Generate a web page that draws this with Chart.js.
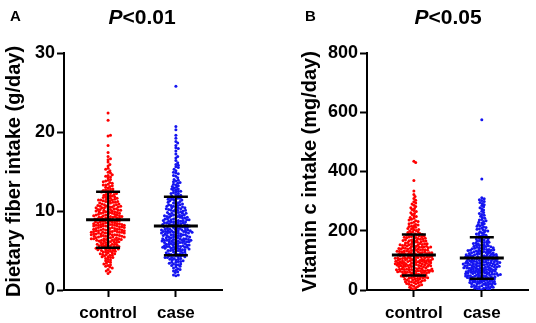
<!DOCTYPE html>
<html>
<head>
<meta charset="utf-8">
<script src="https://cdn.jsdelivr.net/npm/chart.js@4.4.1/dist/chart.umd.min.js"></script>
<style>
  html,body{margin:0;padding:0;background:#fff;}
  #wrap{position:relative;width:536px;height:323px;overflow:hidden;}
  .pane{position:absolute;top:0;width:268px;height:323px;}
  #pA{left:0;} #pB{left:268px;}
</style>
</head>
<body>
<div id="wrap">
  <div class="pane" id="pA"><canvas id="cA" width="268" height="323"></canvas></div>
  <div class="pane" id="pB"><canvas id="cB" width="268" height="323"></canvas></div>
</div>
<script>
/* ---- data ---- */
const groups = ['control', 'case'];

// panel A: dietary fiber intake (g/day)
const fiberControl = [
  2.1,2.4,2.6,2.8,2.9,2.3,
  3.0,3.2,3.3,3.5,3.6,3.7,3.8,3.9,3.4,3.1,
  4.0,4.1,4.2,4.2,4.3,4.4,4.5,4.5,4.6,4.7,4.7,4.8,4.9,4.9,4.1,4.4,4.6,4.8,
  5.0,5.0,5.1,5.1,5.2,5.2,5.3,5.3,5.3,5.4,5.4,5.5,5.5,5.5,5.6,5.6,5.7,5.7,5.7,5.8,5.8,5.8,5.9,5.9,5.2,5.4,5.6,5.0,
  6.0,6.0,6.1,6.1,6.1,6.2,6.2,6.2,6.3,6.3,6.3,6.4,6.4,6.4,6.5,6.5,6.5,6.5,6.6,6.6,6.6,6.7,6.7,6.7,6.8,6.8,6.8,6.9,6.9,6.9,6.0,6.3,6.6,6.8,
  7.0,7.0,7.0,7.0,7.1,7.1,7.1,7.1,7.2,7.2,7.2,7.2,7.3,7.3,7.3,7.3,7.4,7.4,7.4,7.4,7.5,7.5,7.5,7.5,7.6,7.6,7.6,7.6,7.7,7.7,7.7,7.7,7.8,7.8,7.8,7.9,7.9,7.9,
  8.0,8.0,8.0,8.0,8.1,8.1,8.1,8.1,8.2,8.2,8.2,8.2,8.3,8.3,8.3,8.3,8.4,8.4,8.4,8.4,8.5,8.5,8.5,8.5,8.6,8.6,8.6,8.7,8.7,8.7,8.8,8.8,8.8,8.9,8.9,8.9,
  9.0,9.0,9.0,9.0,9.1,9.1,9.1,9.2,9.2,9.2,9.2,9.3,9.3,9.3,9.4,9.4,9.4,9.5,9.5,9.5,9.6,9.6,9.6,9.7,9.7,9.7,9.8,9.8,9.8,9.9,9.9,9.9,
  10.0,10.0,10.0,10.1,10.1,10.1,10.2,10.2,10.2,10.3,10.3,10.3,10.4,10.4,10.4,10.5,10.5,10.5,10.6,10.6,10.6,10.7,10.7,10.8,10.8,10.8,10.9,10.9,
  11.0,11.0,11.1,11.1,11.1,11.2,11.2,11.3,11.3,11.4,11.4,11.4,11.5,11.5,11.6,11.6,11.7,11.7,11.8,11.8,11.9,11.9,
  12.0,12.1,12.2,12.2,12.3,12.4,12.5,12.5,12.6,12.7,12.8,12.8,12.9,12.1,12.4,12.6,
  13.0,13.1,13.2,13.3,13.4,13.5,13.6,13.7,13.8,13.9,13.3,
  14.0,14.2,14.3,14.5,14.6,14.8,14.9,14.4,
  15.1,15.3,15.4,15.7,15.9,
  16.2,16.5,16.6,16.9,
  17.4,18.3,19.5,19.6,21.5,22.4
];
const fiberCase = [
  1.8,1.9,1.9,
  2.2,2.4,2.5,2.6,2.7,2.8,2.9,2.3,
  3.0,3.1,3.2,3.3,3.3,3.4,3.5,3.5,3.6,3.6,3.7,3.8,3.8,3.9,3.9,3.2,
  4.0,4.0,4.1,4.1,4.2,4.2,4.3,4.3,4.4,4.4,4.5,4.5,4.5,4.6,4.6,4.7,4.7,4.8,4.8,4.9,4.9,4.3,4.6,4.1,
  5.0,5.0,5.0,5.1,5.1,5.1,5.2,5.2,5.2,5.3,5.3,5.3,5.4,5.4,5.4,5.4,5.5,5.5,5.5,5.5,5.6,5.6,5.6,5.7,5.7,5.7,5.8,5.8,5.8,5.9,5.9,5.9,
  6.0,6.0,6.0,6.0,6.1,6.1,6.1,6.1,6.2,6.2,6.2,6.2,6.3,6.3,6.3,6.3,6.4,6.4,6.4,6.4,6.5,6.5,6.5,6.5,6.6,6.6,6.6,6.7,6.7,6.7,6.8,6.8,6.8,6.9,6.9,6.9,
  7.0,7.0,7.0,7.0,7.1,7.1,7.1,7.2,7.2,7.2,7.2,7.3,7.3,7.3,7.3,7.4,7.4,7.4,7.4,7.5,7.5,7.5,7.5,7.6,7.6,7.6,7.6,7.7,7.7,7.7,7.8,7.8,7.8,7.9,7.9,7.9,
  8.0,8.0,8.0,8.1,8.1,8.1,8.1,8.2,8.2,8.2,8.3,8.3,8.3,8.4,8.4,8.4,8.5,8.5,8.5,8.5,8.6,8.6,8.6,8.7,8.7,8.7,8.8,8.8,8.8,8.9,8.9,8.9,
  9.0,9.0,9.0,9.1,9.1,9.1,9.2,9.2,9.2,9.3,9.3,9.4,9.4,9.4,9.5,9.5,9.5,9.6,9.6,9.7,9.7,9.7,9.8,9.8,9.9,9.9,
  10.0,10.0,10.1,10.1,10.1,10.2,10.2,10.3,10.3,10.4,10.4,10.4,10.5,10.5,10.6,10.6,10.7,10.7,10.8,10.8,10.9,10.9,
  11.0,11.1,11.2,11.2,11.3,11.4,11.5,11.5,11.6,11.7,11.7,11.8,11.9,11.0,11.4,11.6,11.9,
  12.0,12.1,12.2,12.3,12.4,12.5,12.6,12.7,12.8,12.9,12.2,12.5,12.8,
  13.0,13.1,13.3,13.4,13.5,13.6,13.7,13.8,13.9,13.2,
  14.0,14.2,14.4,14.5,14.7,14.8,14.9,
  15.1,15.3,15.5,15.6,15.8,15.9,
  16.1,16.4,16.7,16.9,
  17.2,17.6,17.9,
  18.0,18.3,18.6,18.8,
  19.2,19.6,20.3,20.7,25.8
];

// panel B: vitamin c intake (mg/day)
const vitcControl = [
  2,5,7,9,11,13,15,16,18,19,
  21,22,24,25,26,27,28,29,30,31,32,33,34,35,36,37,38,39,
  40,41,41,42,43,44,44,45,46,47,47,48,49,50,50,51,52,53,53,54,55,56,57,58,58,59,
  60,60,61,61,62,62,63,63,64,64,65,65,66,66,67,67,68,68,69,69,70,70,71,71,72,72,73,74,75,76,77,78,79,79,
  80,81,82,83,84,85,86,87,88,89,90,91,92,93,94,95,96,97,98,99,80,81,82,84,85,86,88,89,90,91,92,94,95,96,97,98,99,83,
  100,101,102,103,104,105,106,107,108,109,110,111,112,113,114,115,116,117,118,119,100,101,102,103,105,106,107,108,110,111,112,114,115,116,118,119,
  120,121,122,123,124,125,126,127,128,129,130,131,132,133,134,135,136,137,138,139,120,122,123,125,126,128,129,131,132,134,136,138,
  140,141,142,143,144,145,146,147,148,149,150,151,152,153,154,155,156,157,158,159,141,143,145,148,150,153,156,
  160,161,162,163,164,165,166,167,168,169,170,171,172,173,174,175,176,177,178,179,165,
  180,181,182,183,184,185,186,187,188,190,191,193,194,196,197,199,
  201,203,204,206,208,210,212,214,215,217,219,
  221,224,226,229,231,234,236,239,
  242,245,248,251,255,258,
  261,265,268,272,275,278,
  282,286,290,294,298,
  303,309,316,322,334,370,430,435
];
const vitcCase = [
  1,2,3,4,5,6,7,8,9,10,11,12,13,14,15,16,17,18,19,10,
  20,21,22,23,24,25,26,27,28,29,30,31,32,33,34,35,36,37,38,39,21,23,25,27,30,33,35,38,
  40,41,42,43,44,45,46,47,48,49,50,51,52,53,54,55,56,57,58,59,40,41,43,44,46,47,49,50,52,53,55,56,58,59,
  60,61,62,63,64,65,66,67,68,69,70,71,72,73,74,75,76,77,78,79,60,61,62,63,65,66,67,69,70,71,73,74,75,77,78,79,
  80,81,82,83,84,85,86,87,88,89,90,91,92,93,94,95,96,97,98,99,80,81,83,84,85,86,88,89,90,91,92,94,95,96,97,99,
  100,101,102,103,104,105,106,107,108,109,110,111,112,113,114,115,116,117,118,119,101,103,104,106,108,110,112,113,115,116,118,119,
  120,121,122,123,124,125,126,127,128,129,130,131,132,133,134,135,136,137,138,139,122,125,128,131,134,137,
  140,141,142,143,144,145,146,147,148,149,150,151,152,153,155,156,157,159,
  160,161,162,163,165,166,168,169,171,172,174,175,177,179,
  180,182,183,185,187,189,191,193,195,197,199,
  201,203,205,207,209,211,213,215,217,219,
  221,224,226,229,231,234,236,238,
  242,245,249,252,255,258,
  262,266,270,274,278,
  281,285,288,292,295,299,
  302,305,308,311,375,575
];

// mean and SD bars as drawn in the figure
const fiberMean = [8.9, 8.1], fiberSD = [3.55, 3.7];
const vitcMean  = [118, 108], vitcSD  = [69, 70];

const yTicksA = [0, 10, 20, 30];
const yTicksB = [0, 200, 400, 600, 800];

/* ---- look ---- */
const FONT = 'Arial, "Liberation Sans", sans-serif';
const RED = '#ff0000', BLUE = '#1414f0';
Chart.defaults.font.family = FONT;
Chart.defaults.color = '#000';

// horizontal spread of the dots (pure layout, pixel space)
function swarm(vals, pos, yMax, plotH, unitPx, gap){
  const pxY = plotH / yMax;
  const order = vals.map((v, i) => i).sort((a, b) => ((a * 0.618034) % 1) - ((b * 0.618034) % 1));
  const placed = [];
  const out = new Array(vals.length);
  order.forEach(i => {
    const y = vals[i] * pxY;
    let off = 0;
    for (let k = 0; k < 200; k++) {
      off = (k % 2 ? 1 : -1) * Math.ceil(k / 2) * 0.6;
      let ok = true;
      for (const p of placed) {
        const dx = p.x - off, dy = p.y - y;
        if (dx * dx + dy * dy < gap * gap) { ok = false; break; }
      }
      if (ok) break;
    }
    placed.push({x: off, y});
    out[i] = {x: pos + off / unitPx, y: vals[i]};
  });
  return out;
}

const errBars = {
  id: 'errBars',
  afterDatasetsDraw(chart, args, o) {
    const {ctx, scales: {x, y}} = chart;
    ctx.save();
    ctx.strokeStyle = '#000';
    o.mean.forEach((m, i) => {
      const cx = x.getPixelForValue(i + 1);
      const lo = y.getPixelForValue(m - o.sd[i]), hi = y.getPixelForValue(m + o.sd[i]), my = y.getPixelForValue(m);
      ctx.lineWidth = 2;
      ctx.beginPath(); ctx.moveTo(cx, lo); ctx.lineTo(cx, hi); ctx.stroke();
      ctx.lineWidth = 2.5;
      ctx.beginPath();
      ctx.moveTo(cx - 12, lo); ctx.lineTo(cx + 12, lo);
      ctx.moveTo(cx - 12, hi); ctx.lineTo(cx + 12, hi);
      ctx.stroke();
      ctx.lineWidth = 3;
      ctx.beginPath(); ctx.moveTo(cx - 22, my); ctx.lineTo(cx + 22, my); ctx.stroke();
    });
    ctx.restore();
  }
};

const heads = {
  id: 'heads',
  afterDraw(chart, args, o) {
    const ctx = chart.ctx;
    ctx.save();
    ctx.fillStyle = '#000';
    ctx.textBaseline = 'alphabetic';
    ctx.font = 'bold 15px ' + FONT;
    ctx.textAlign = 'left';
    ctx.fillText(o.letter, o.lx, 21);
    ctx.font = 'italic bold 21px ' + FONT;
    const wP = ctx.measureText('P').width;
    ctx.font = 'bold 21px ' + FONT;
    const wR = ctx.measureText(o.rest).width;
    let sx = o.cx - (wP + wR) / 2;
    ctx.font = 'italic bold 21px ' + FONT;
    ctx.fillText('P', sx, 24);
    ctx.font = 'bold 21px ' + FONT;
    ctx.fillText(o.rest, sx + wP, 24);
    ctx.restore();
  }
};

function makePanel(id, cfg){
  const plotH = 237;
  const unitPx = (268 - cfg.padRight - cfg.axisW) / (cfg.xMax - cfg.xMin);
  return new Chart(document.getElementById(id), {
    type: 'scatter',
    data: {
      datasets: [
        {data: swarm(cfg.vals[0], 1, cfg.yMax, plotH, unitPx, 2.1), backgroundColor: RED},
        {data: swarm(cfg.vals[1], 2, cfg.yMax, plotH, unitPx, 2.1), backgroundColor: BLUE}
      ]
    },
    options: {
      responsive: false, animation: false,
      layout: {padding: {top: 53, right: cfg.padRight, bottom: 0, left: 0}},
      elements: {point: {radius: 1.5, borderWidth: 0, hoverRadius: 1.5}},
      plugins: {
        legend: {display: false}, tooltip: {enabled: false},
        errBars: {mean: cfg.mean, sd: cfg.sd},
        heads: {letter: cfg.letter, lx: cfg.lx, cx: cfg.cx, rest: cfg.rest}
      },
      scales: {
        x: {
          type: 'linear', min: cfg.xMin, max: cfg.xMax,
          afterBuildTicks: s => { s.ticks = [{value: 1}, {value: 2}]; },
          afterFit: s => { s.height = 33; },
          ticks: {callback: v => groups[v - 1], font: {size: 17, weight: 'bold'}, padding: 6, color: '#000'},
          grid: {drawOnChartArea: false, drawTicks: true, tickLength: 7, tickWidth: 2, tickColor: '#000'},
          border: {display: true, width: 2, color: '#000'}
        },
        y: {
          min: 0, max: cfg.yMax,
          afterBuildTicks: s => { s.ticks = cfg.yTicks.map(v => ({value: v})); },
          afterFit: s => { s.width = cfg.axisW; },
          ticks: {font: {size: 18, weight: 'bold'}, padding: 2, color: '#000'},
          grid: {drawOnChartArea: false, drawTicks: true, tickLength: 7, tickWidth: 2, tickColor: '#000'},
          border: {display: true, width: 2, color: '#000'},
          title: {display: true, text: cfg.yTitle, font: {size: 20, weight: 'bold'}, padding: {top: cfg.titlePad, bottom: 0}, color: '#000'}
        }
      }
    },
    plugins: [errBars, heads]
  });
}

makePanel('cA', {
  vals: [fiberControl, fiberCase], mean: fiberMean, sd: fiberSD,
  yMax: 30, yTicks: yTicksA, yTitle: 'Dietary fiber intake (g/day)',
  axisW: 64, padRight: 46, xMin: 0.35, xMax: 2.68, titlePad: 2,
  letter: 'A', lx: 10, cx: 142, rest: '<0.01'
});
makePanel('cB', {
  vals: [vitcControl, vitcCase], mean: vitcMean, sd: vitcSD,
  yMax: 800, yTicks: yTicksB, yTitle: 'Vitamin c intake (mg/day)',
  axisW: 99, padRight: 8, xMin: 0.31, xMax: 2.68, titlePad: 30,
  letter: 'B', lx: 37, cx: 180, rest: '<0.05'
});
</script>
</body>
</html>
